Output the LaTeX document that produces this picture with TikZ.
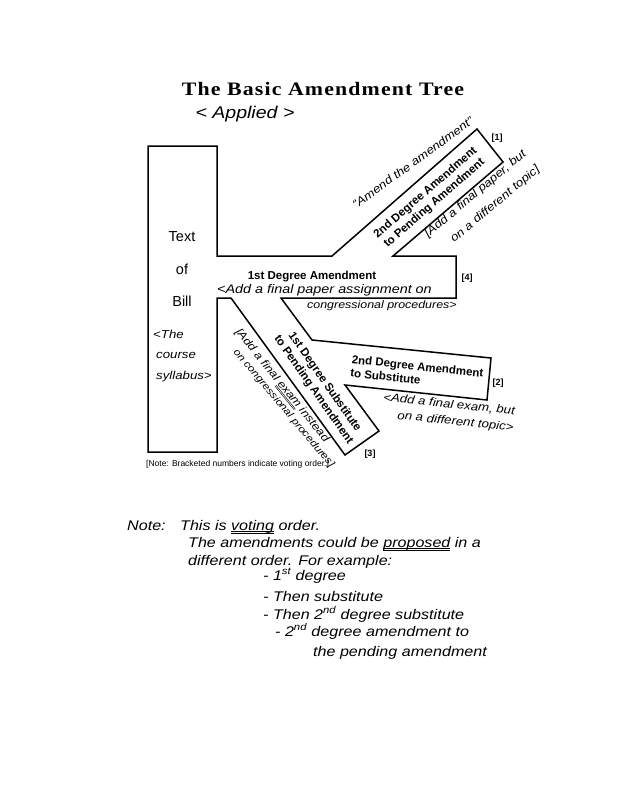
\documentclass[tikz,border=0pt]{standalone}
\usepackage{fontspec}
\setmainfont{Liberation Serif}
\setsansfont{Liberation Sans}
\newfontfamily\titlefont{Liberation Serif}[FakeStretch=1.15,LetterSpace=6]
\newfontfamily\handfont{Liberation Sans}[FakeStretch=1.15]
\usetikzlibrary{positioning}
\newcommand\twoline[1]{\leavevmode\sbox0{#1}\rlap{\rule[-1.8pt]{\wd0}{0.45pt}}\rlap{\rule[-3.2pt]{\wd0}{0.45pt}}\usebox0}

\tikzset{
  treeline/.style={draw=black, line width=1.5pt, line join=miter},
  printbold/.style={font=\sffamily\bfseries\fontsize{11.5}{13.5}\selectfont, align=center, inner sep=0pt},
  billword/.style={font=\sffamily\fontsize{14.5}{16}\selectfont, inner sep=0pt},
  votenum/.style={font=\sffamily\bfseries\fontsize{9}{10}\selectfont, inner sep=0pt},
  handnote/.style={font=\handfont\itshape\fontsize{11.5}{14}\selectfont, anchor=base west, inner sep=0pt},
  bignote/.style={font=\handfont\itshape\fontsize{14}{16}\selectfont, anchor=base west, inner sep=0pt}
}

\begin{document}
\begin{tikzpicture}[x=1pt, y=-1pt]
    \fill[white] (0,0) rectangle (623,807);
    \useasboundingbox (0,0) rectangle (623,807);

    % title
    \node[font=\titlefont\bfseries\fontsize{19}{22}\selectfont] (title) at (323,89) {The Basic Amendment Tree};
    \node[font=\handfont\itshape\fontsize{17}{19}\selectfont, inner sep=0pt] (applied) at (245,114) {< Applied >};

    % the tree outline
    \draw[treeline] (148,146) -- (217,146) -- (217,256) -- (332,256) -- (477,129)
        -- (503,162) -- (393,256) -- (456,256) -- (456,298) -- (281,298)
        -- (312,340) -- (491,358) -- (487,400) -- (345,385) -- (379,431)
        -- (345,455) -- (231,298) -- (217,298) -- (217,452) -- (148,452) -- cycle;

    % trunk
    \node[billword] (text) at (182,237) {Text};
    \node[billword] (of) at (182,269) {of};
    \node[billword] (bill) at (182,301) {Bill};
    \node[handnote] (the) at (153,338) {<The};
    \node[handnote] (course) at (156,358) {course};
    \node[handnote] (syllabus) at (156,379) {syllabus>};

    % 1st degree amendment
    \node[printbold] (deg1) at (312,277) {1st Degree Amendment};
    \node[votenum] (v4) at (467,278) {[4]};
    \node[handnote, font=\handfont\itshape\fontsize{12.5}{14}\selectfont] (paperassign) at (217,293) {<Add a final paper assignment on};
    \node[handnote, font=\handfont\itshape\fontsize{10.8}{14}\selectfont] (congproc) at (307,308) {congressional procedures>};

    % 2nd degree amendment to pending amendment
    \node[printbold, rotate=41] (deg2pend) at (430,198) {2nd Degree Amendment\\to Pending Amendment};
    \node[votenum] (v1) at (497,138) {[1]};
    \node[handnote, rotate=36] (amendnext) at (356,209) {“Amend the amendment”};
    \node[handnote, rotate=40] (paperbut) at (428,238) {[Add a final paper, but};
    \node[handnote, rotate=40] (difftopic) at (454,243) {on a different topic]};

    % 1st degree substitute
    \node[printbold, rotate=-55] (sub1) at (319,386) {1st Degree Substitute\\to Pending Amendment};
    \node[votenum] (v3) at (370,454) {[3]};
    \node[handnote, rotate=-51, font=\handfont\itshape\fontsize{11}{14}\selectfont] (examinst) at (235,332) {[Add a final \twoline{exam} instead};
    \node[handnote, rotate=-50, font=\handfont\itshape\fontsize{10}{14}\selectfont] (congproc2) at (233,352) {on congressional procedures]};

    % 2nd degree amendment to substitute
    \node[printbold, align=left, rotate=-6] (deg2sub) at (417,373) {2nd Degree Amendment\\to Substitute};
    \node[votenum] (v2) at (498,383) {[2]};
    \node[handnote, rotate=-6] (exambut) at (383,401) {<Add a final exam, but};
    \node[handnote, rotate=-6] (difftopic2) at (397,419) {on a different topic>};

    % printed note
    \node[font=\sffamily\fontsize{8.5}{10}\selectfont, anchor=west, inner sep=0pt] (brnote) at (146,464) {[Note: Bracketed numbers indicate voting order.]};

    % handwritten notes
    \node[bignote] (n0) at (127,530) {Note:};
    \node[bignote] (n1) at (180,530) {This is \twoline{voting} order.};
    \node[bignote] (n2) at (188,547) {The amendments could be \twoline{proposed} in a};
    \node[bignote] (n3) at (188,565) {different order. For example:};
    \node[bignote] (n4) at (263,580) {- 1\textsuperscript{st} degree};
    \node[bignote] (n5) at (263,601) {- Then substitute};
    \node[bignote] (n6) at (263,619) {- Then 2\textsuperscript{nd} degree substitute};
    \node[bignote] (n7) at (275,636) {- 2\textsuperscript{nd} degree amendment to};
    \node[bignote] (n8) at (313,656) {the pending amendment};
\end{tikzpicture}
\end{document}
